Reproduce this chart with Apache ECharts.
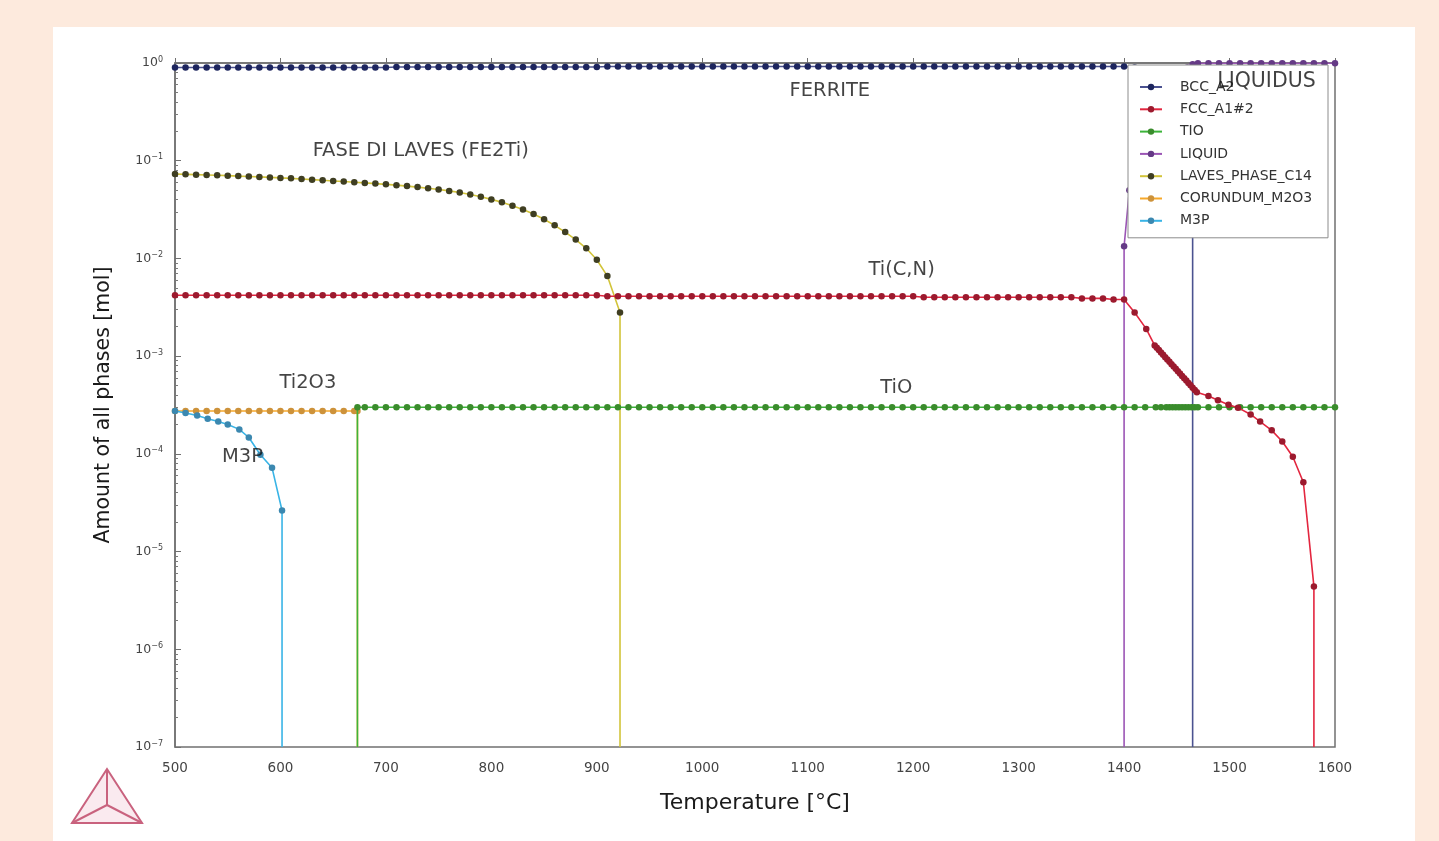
<!DOCTYPE html>
<html>
<head>
<meta charset="utf-8">
<title>Amount of all phases vs temperature</title>
<script src="https://cdn.jsdelivr.net/npm/echarts@6/dist/echarts.min.js"></script>
<style>
  html, body { margin: 0; padding: 0; background: #fdeadd; }
  #chart { width: 1439px; height: 841px; }
</style>
</head>
<body>
<div id="chart"></div>
<script>
// ---- Phase amounts (mol) against temperature (°C) ----
const phaseNames = ['BCC_A2', 'FCC_A1#2', 'TIO', 'LIQUID', 'LAVES_PHASE_C14', 'CORUNDUM_M2O3', 'M3P'];

const bccTemp = [
  500,510,520,530,540,550,560,570,580,590,600,610,620,630,640,650,660,670,680,690,700,
  710,720,730,740,750,760,770,780,790,800,810,820,830,840,850,860,870,880,890,900,
  910,920,930,940,950,960,970,980,990,1000,1010,1020,1030,1040,1050,1060,1070,1080,1090,1100,
  1110,1120,1130,1140,1150,1160,1170,1180,1190,1200,1210,1220,1230,1240,1250,1260,1270,1280,1290,1300,
  1310,1320,1330,1340,1350,1360,1370,1380,1390,1400,
  1410,1420,1430,1440,1450,1460,1465,1465
];
const bccAmount = [
  0.90,0.90,0.90,0.90,0.90,0.90,0.90,0.90,0.90,0.90,0.90,0.90,0.90,0.90,0.90,0.90,0.90,0.90,0.90,0.90,0.90,
  0.91,0.91,0.91,0.91,0.91,0.91,0.91,0.91,0.91,0.91,0.91,0.91,0.91,0.91,0.91,0.91,0.91,0.91,0.91,0.91,
  0.92,0.92,0.92,0.92,0.92,0.92,0.92,0.92,0.92,0.92,0.92,0.92,0.92,0.92,0.92,0.92,0.92,0.92,0.92,0.92,
  0.92,0.92,0.92,0.92,0.92,0.92,0.92,0.92,0.92,0.92,0.92,0.92,0.92,0.92,0.92,0.92,0.92,0.92,0.92,0.92,
  0.92,0.92,0.92,0.92,0.92,0.92,0.92,0.92,0.92,0.92,
  0.90,0.85,0.76,0.62,0.40,0.15,0.04,1e-7
];

const fccTemp = [
  500,510,520,530,540,550,560,570,580,590,600,610,620,630,640,650,660,670,680,690,700,
  710,720,730,740,750,760,770,780,790,800,810,820,830,840,850,860,870,880,890,900,
  910,920,930,940,950,960,970,980,990,1000,1010,1020,1030,1040,1050,1060,1070,1080,1090,1100,
  1110,1120,1130,1140,1150,1160,1170,1180,1190,1200,1210,1220,1230,1240,1250,1260,1270,1280,1290,1300,
  1310,1320,1330,1340,1350,1360,1370,1380,1390,1400,
  1410,1421,
  1429,1431,1433,1435,1437,1439,1441,1443,1445,1447,1449,1451,1453,1455,1457,1459,1461,1463,1465,1467,1469,
  1480,1489,1499,1508,1520,1529,1540,1550,1560,1570,1580,1580
];
const fccAmount = [
  0.0042,0.0042,0.0042,0.0042,0.0042,0.0042,0.0042,0.0042,0.0042,0.0042,0.0042,0.0042,0.0042,0.0042,0.0042,0.0042,0.0042,0.0042,0.0042,0.0042,0.0042,
  0.0042,0.0042,0.0042,0.0042,0.0042,0.0042,0.0042,0.0042,0.0042,0.0042,0.0042,0.0042,0.0042,0.0042,0.0042,0.0042,0.0042,0.0042,0.0042,0.0042,
  0.0041,0.0041,0.0041,0.0041,0.0041,0.0041,0.0041,0.0041,0.0041,0.0041,0.0041,0.0041,0.0041,0.0041,0.0041,0.0041,0.0041,0.0041,0.0041,0.0041,
  0.0041,0.0041,0.0041,0.0041,0.0041,0.0041,0.0041,0.0041,0.0041,0.0041,0.0040,0.0040,0.0040,0.0040,0.0040,0.0040,0.0040,0.0040,0.0040,0.0040,
  0.0040,0.0040,0.0040,0.0040,0.0040,0.0039,0.0039,0.0039,0.0038,0.0038,
  0.0028,0.0019,
  0.001288,0.001219,0.001153,0.001091,0.001033,0.000977,0.000925,0.000875,0.000828,0.000783,0.000741,
  0.000701,0.000664,0.000628,0.000594,0.000562,0.000532,0.000504,0.000476,0.000451,0.000427,
  0.00039,0.000353,0.000318,0.000297,0.000253,0.000214,0.000174,0.000134,0.0000935,0.0000512,0.0000044,1e-7
];

const tioTemp = [
  673,673,680,690,700,710,720,730,740,750,760,770,780,790,800,810,820,830,840,850,860,870,880,890,900,
  910,920,930,940,950,960,970,980,990,1000,1010,1020,1030,1040,1050,1060,1070,1080,1090,1100,
  1110,1120,1130,1140,1150,1160,1170,1180,1190,1200,1210,1220,1230,1240,1250,1260,1270,1280,1290,1300,
  1310,1320,1330,1340,1350,1360,1370,1380,1390,1400,1410,1420,1430,
  1435,1440,1443,1446,1449,1452,1455,1458,1461,1464,1467,
  1470,1480,1490,1500,1510,1520,1530,1540,1550,1560,1570,1580,1590,1600
];
const tioAmount = [
  1e-7,0.0003,0.0003,0.0003,0.0003,0.0003,0.0003,0.0003,0.0003,0.0003,0.0003,0.0003,0.0003,0.0003,0.0003,0.0003,0.0003,0.0003,0.0003,0.0003,0.0003,0.0003,0.0003,0.0003,0.0003,
  0.0003,0.0003,0.0003,0.0003,0.0003,0.0003,0.0003,0.0003,0.0003,0.0003,0.0003,0.0003,0.0003,0.0003,0.0003,0.0003,0.0003,0.0003,0.0003,0.0003,
  0.0003,0.0003,0.0003,0.0003,0.0003,0.0003,0.0003,0.0003,0.0003,0.0003,0.0003,0.0003,0.0003,0.0003,0.0003,0.0003,0.0003,0.0003,0.0003,0.0003,
  0.0003,0.0003,0.0003,0.0003,0.0003,0.0003,0.0003,0.0003,0.0003,0.0003,0.0003,0.0003,0.0003,
  0.0003,0.0003,0.0003,0.0003,0.0003,0.0003,0.0003,0.0003,0.0003,0.0003,0.0003,
  0.0003,0.0003,0.0003,0.0003,0.0003,0.0003,0.0003,0.0003,0.0003,0.0003,0.0003,0.0003,0.0003,0.0003
];

const liquidTemp = [1400,1400,1405,1410,1420,1430,1440,1450,1460,1465,
  1470,1480,1490,1500,1510,1520,1530,1540,1550,1560,1570,1580,1590,1600];
const liquidAmount = [1e-7,0.0133,0.05,0.12,0.30,0.45,0.60,0.75,0.90,0.97,
  0.995,0.995,0.995,0.995,0.995,0.995,0.995,0.995,0.995,0.995,0.995,0.995,0.995,0.995];

const lavesTemp = [
  500,510,520,530,540,550,560,570,580,590,600,610,620,630,640,650,660,670,680,690,700,
  710,720,730,740,750,760,770,780,790,800,810,820,830,840,850,860,870,880,890,900,910,922,922
];
const lavesAmount = [
  0.073,0.0725,0.072,0.0715,0.071,0.0703,0.0696,0.069,0.0683,0.0675,0.0667,0.066,0.065,0.064,0.063,0.0621,0.0612,0.0603,0.0593,0.0583,0.0573,
  0.0562,0.055,0.0537,0.0523,0.0508,0.0491,0.0472,0.0451,0.0428,0.0402,0.0375,0.0346,0.0316,0.0285,0.0252,0.0218,0.0186,0.0156,0.0127,0.0097,0.0066,0.0028,1e-7
];

const corundumTemp = [500,510,520,530,540,550,560,570,580,590,600,610,620,630,640,650,660,670,673,673];
const corundumAmount = [0.000275,0.000275,0.000275,0.000275,0.000275,0.000275,0.000275,0.000275,0.000275,0.000275,
  0.000275,0.000275,0.000275,0.000275,0.000275,0.000275,0.000275,0.000275,0.000275,1e-7];

const m3pTemp = [500,510,521,531,541,550,561,570,581,592,601.5,601.5];
const m3pAmount = [0.000275,0.000262,0.000247,0.000229,0.000214,0.0002,0.000178,0.000147,0.000098,0.0000722,0.0000263,1e-7];

// Phase-region annotations
const noteText = ['FERRITE', 'FASE DI LAVES (FE2Ti)', 'Ti(C,N)', 'TiO', 'Ti2O3', 'M3P', 'LIQUIDUS'];
const noteTemp = [1121, 733, 1189, 1184, 626, 564, 1535];
const noteAmount = [0.517, 0.126, 0.0076, 0.00047, 0.00053, 0.0000927, 0.64];

// Axis ticks
const xTicks = [500, 600, 700, 800, 900, 1000, 1100, 1200, 1300, 1400, 1500, 1600];
const yExponents = [-7, -6, -5, -4, -3, -2, -1, 0];

// ---- styling per phase ----
const lineColors = ['#4b5290', '#e3263f', '#3cb43a', '#9b55b5', '#d2c43a', '#f6a82a', '#39b4e6'];
const dotColors  = ['#1d255e', '#9c1a2e', '#3a8c2c', '#653a86', '#3f3e22', '#cd923a', '#3b88b0'];
const AXIS_MIN = 1e-7;

// points that sit on the axis floor only close the vertical drop, no marker there
const zip = (xs, ys) => xs.map((x, i) => ys[i] <= AXIS_MIN
  ? { value: [x, ys[i]], symbolSize: 0 }
  : [x, ys[i]]);
const seriesData = [
  zip(bccTemp, bccAmount), zip(fccTemp, fccAmount), zip(tioTemp, tioAmount),
  zip(liquidTemp, liquidAmount), zip(lavesTemp, lavesAmount),
  zip(corundumTemp, corundumAmount), zip(m3pTemp, m3pAmount)
];

const FONT = '"DejaVu Sans", "Open Sans", sans-serif';
const seriesZ = [2, 4, 3, 2, 3, 2, 3];

const series = phaseNames.map((name, i) => ({
  name: name,
  type: 'line',
  data: seriesData[i],
  z: seriesZ[i],
  symbol: 'circle',
  symbolSize: 6.5,
  showAllSymbol: true,
  lineStyle: { color: lineColors[i], width: 1.6 },
  itemStyle: { color: dotColors[i], borderWidth: 0 },
  emphasis: { disabled: true }
}));

series.push({
  name: 'notes',
  type: 'scatter',
  z: 10,
  symbolSize: 0,
  silent: true,
  data: noteText.map((t, i) => ({ name: t, value: [noteTemp[i], noteAmount[i]] })),
  label: {
    show: true,
    position: 'inside',
    formatter: p => p.name,
    color: '#151515',
    fontFamily: FONT,
    fontSize: 19.5
  },
  labelLayout: { hideOverlap: false }
});
// the liquidus label is set a bit larger
series[series.length - 1].data[6].label = { fontSize: 20.5, color: '#111' };

// decade positions on a linear exponent axis, with minor marks at 2..9
const majorTickPos = yExponents.slice();
const minorTickPos = [];
for (let e = -7; e < 0; e++) {
  for (let m = 2; m <= 9; m++) minorTickPos.push(e + Math.log10(m));
}

const supers = { '0': '0', '1': '−1', '2': '−2', '3': '−3', '4': '−4', '5': '−5', '6': '−6', '7': '−7' };

const chart = echarts.init(document.getElementById('chart'), null, { renderer: 'canvas' });
chart.setOption({
  animation: false,
  backgroundColor: '#fdeadd',
  textStyle: { fontFamily: FONT },
  graphic: [
    {
      type: 'rect', z: -100, silent: true,
      shape: { x: 53, y: 27, width: 1362, height: 830 },
      style: { fill: '#ffffff' }
    },
    {
      type: 'group', silent: true, z: 5,
      children: [
        { type: 'polygon', shape: { points: [[107, 769], [72, 823], [142, 823]] },
          style: { fill: 'rgba(236,170,190,0.25)', stroke: '#c9627e', lineWidth: 2 } },
        { type: 'polyline', shape: { points: [[107, 769], [107, 805]] }, style: { stroke: '#c9627e', lineWidth: 2, fill: null } },
        { type: 'polyline', shape: { points: [[72, 823], [107, 805]] }, style: { stroke: '#c9627e', lineWidth: 2, fill: null } },
        { type: 'polyline', shape: { points: [[142, 823], [107, 805]] }, style: { stroke: '#c9627e', lineWidth: 2, fill: null } }
      ]
    }
  ],
  grid: {
    left: 175, right: 104, top: 63, bottom: 94,
    show: true, borderColor: '#707070', borderWidth: 1.5, backgroundColor: 'transparent'
  },
  legend: {
    data: phaseNames,
    orient: 'vertical',
    left: 1128, top: 65,
    padding: [15, 11, 10, 11],
    itemWidth: 22, itemHeight: 8, itemGap: 8.3,
    backgroundColor: '#ffffff',
    borderColor: '#8c8c8c', borderWidth: 1,
    selectedMode: false,
    textStyle: {
      fontFamily: FONT, fontSize: 14, color: '#333',
      lineHeight: 14, width: 137, padding: [0, 0, 0, 13]
    }
  },
  xAxis: {
    type: 'value', min: 500, max: 1600, interval: 100,
    name: 'Temperature [°C]', nameLocation: 'middle', nameGap: 45,
    nameTextStyle: { fontFamily: FONT, fontSize: 22, color: '#1a1a1a' },
    axisLine: { show: true, lineStyle: { color: '#707070', width: 1.5 } },
    axisTick: { show: true, inside: true, length: 5, lineStyle: { color: '#707070' } },
    axisLabel: { fontFamily: FONT, fontSize: 13.5, color: '#444', margin: 14,
      formatter: v => String(v) },
    splitLine: { show: false }
  },
  yAxis: [
    {
      type: 'log', logBase: 10, min: AXIS_MIN, max: 1,
      name: 'Amount of all phases [mol]', nameLocation: 'middle', nameGap: 61, nameRotate: 90,
      nameTextStyle: { fontFamily: FONT, fontSize: 20.5, color: '#1a1a1a' },
      axisLine: { show: true, lineStyle: { color: '#707070', width: 1.5 } },
      axisTick: { show: true, inside: true, length: 6, lineStyle: { color: '#707070' } },
      splitLine: { show: false },
      axisLabel: {
        margin: 12,
        formatter: v => {
          const e = Math.round(-Math.log10(v));
          return '{b|10}{s|' + supers[String(e)] + '}';
        },
        rich: {
          b: { fontFamily: FONT, fontSize: 12.5, color: '#444' },
          s: { fontFamily: FONT, fontSize: 8, color: '#444', padding: [0, 0, 7, 0] }
        }
      }
    },
    {
      // companion axis in exponent units carrying the minor log ticks
      type: 'value', min: -7, max: 0, position: 'left',
      axisLine: { show: false },
      axisLabel: { show: false },
      splitLine: { show: false },
      axisTick: { show: true, inside: true, length: 3, lineStyle: { color: '#7a7a7a' },
        customValues: minorTickPos }
    }
  ],
  series: series
});
</script>
</body>
</html>
